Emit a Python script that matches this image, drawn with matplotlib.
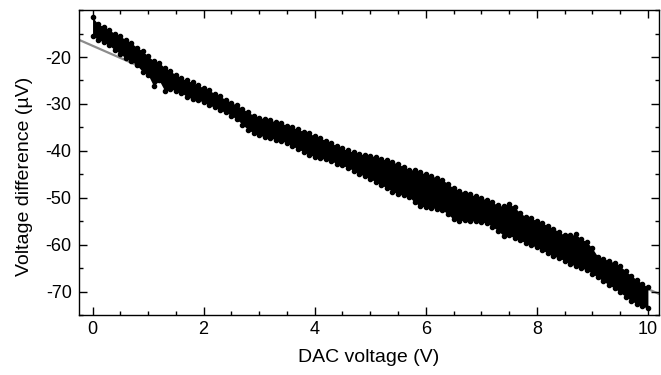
import numpy as np
import matplotlib
matplotlib.use("Agg")
import matplotlib.pyplot as plt
from matplotlib.ticker import MultipleLocator

plt.rcParams['font.family'] = ['Liberation Sans', 'DejaVu Sans']
plt.rcParams['axes.unicode_minus'] = False

# DAC voltage samples (V), one every 0.1 V
dac_v = np.round(np.arange(0, 101) * 0.1, 1)

upper = [-11.5, -13.0, -13.5, -14.2, -15.0, -15.6, -16.3, -17.0, -18.0, -18.7,
         -19.8, -20.8, -21.2, -22.3, -23.0, -23.8, -24.5, -25.0, -25.4, -26.0,
         -26.6, -27.1, -27.8, -28.4, -29.1, -29.7, -30.3, -31.0, -31.8, -32.5,
         -32.9, -33.2, -33.5, -33.8, -34.1, -34.6, -35.0, -35.4, -35.9, -36.3,
         -36.8, -37.3, -37.8, -38.3, -39.0, -39.5, -39.9, -40.3, -40.6, -40.9,
         -41.0, -41.3, -41.7, -42.0, -42.4, -42.8, -43.4, -44.0, -44.1, -44.5,
         -45.0, -45.3, -45.8, -46.2, -47.0, -48.0, -48.5, -48.9, -49.3, -49.6,
         -50.1, -50.4, -51.0, -51.6, -51.8, -51.3, -52.0, -53.3, -54.0, -54.4,
         -54.9, -55.4, -56.0, -56.6, -57.3, -58.0, -58.0, -57.8, -58.8, -59.4,
         -60.8, -62.6, -63.0, -63.4, -63.9, -64.6, -65.6, -66.6, -67.5, -68.3,
         -69.1]
lower = [-15.5, -16.3, -16.8, -17.5, -18.5, -19.3, -20.3, -20.8, -21.8, -23.1,
         -23.8, -26.2, -25.0, -27.2, -26.8, -27.2, -27.6, -28.5, -28.9, -29.2,
         -29.6, -30.3, -30.7, -31.4, -31.8, -32.5, -33.3, -34.4, -35.5, -36.2,
         -36.6, -37.1, -37.3, -37.6, -37.9, -38.3, -39.0, -39.6, -40.2, -40.8,
         -41.3, -41.6, -41.8, -42.2, -42.7, -43.1, -43.6, -44.2, -44.9, -45.4,
         -46.0, -46.6, -47.3, -47.9, -48.7, -49.2, -49.5, -49.8, -51.0, -51.8,
         -52.0, -52.2, -52.3, -52.6, -53.5, -54.6, -54.9, -54.8, -54.9, -55.0,
         -55.2, -55.4, -56.2, -57.0, -58.1, -58.0, -58.6, -59.1, -59.6, -60.1,
         -60.6, -61.2, -61.8, -62.4, -62.9, -63.4, -64.1, -64.6, -65.0, -65.4,
         -66.2, -67.0, -67.8, -68.6, -69.3, -70.2, -71.1, -72.0, -72.6, -73.1,
         -73.6]

# linear fit drawn across the full axis
fit_x = [-0.25, 10.2]
fit_y = [-16.3, -70.5]

fig = plt.figure(figsize=(6.61, 3.75), dpi=100)
ax = fig.add_axes([0.119, 0.16, 0.878, 0.813])

ax.plot(fit_x, fit_y, color='#8c8c8c', lw=1.6, zorder=1)
ax.fill_between(dac_v, lower, upper, color='black', lw=0, zorder=2)
ax.scatter(dac_v, upper, s=9, color='black', zorder=3)
ax.scatter(dac_v, lower, s=9, color='black', zorder=3)

ax.set_xlim(-0.25, 10.2)
ax.set_ylim(-75, -10)
ax.xaxis.set_major_locator(MultipleLocator(2))
ax.xaxis.set_minor_locator(MultipleLocator(0.5))
ax.yaxis.set_major_locator(MultipleLocator(10))
ax.yaxis.set_minor_locator(MultipleLocator(5))
ax.set_yticks([-20, -30, -40, -50, -60, -70])

ax.tick_params(which='both', direction='in', top=True, right=True, width=1)
ax.tick_params(which='major', length=5.5, labelsize=13)
ax.tick_params(which='minor', length=3)
ax.tick_params(axis='x', pad=4.5)
ax.tick_params(axis='y', pad=5)
for s in ax.spines.values():
    s.set_linewidth(1)

ax.set_xlabel("DAC voltage (V)", fontsize=14)
ax.set_ylabel("Voltage difference (\u00b5V)", fontsize=14)
ax.xaxis.set_label_coords(0.5, -0.112)
ax.yaxis.set_label_coords(-0.078, 0.455)

plt.savefig("out.png", dpi=100)
plt.close()
